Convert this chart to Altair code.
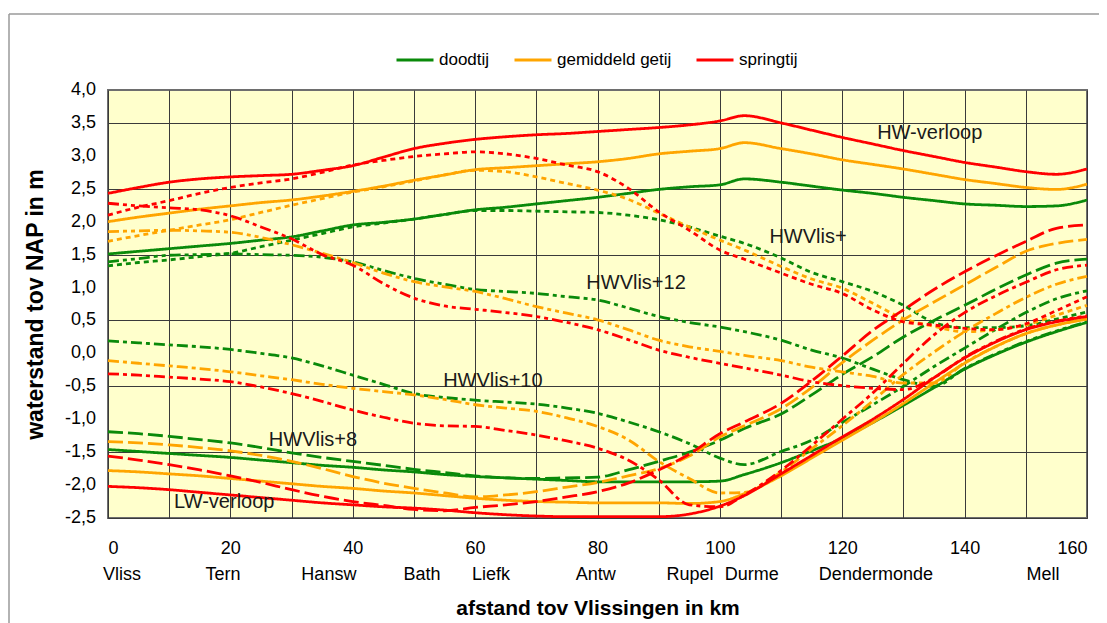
import altair as alt
import pandas as pd

# ---------------- data ----------------
km = [0, 5, 10, 15, 20, 25, 30, 35, 40, 45, 50, 55, 60, 65, 70, 75, 80, 85, 90, 95,
      100, 104, 110, 115, 120, 125, 130, 135, 140, 145, 150, 155, 160]

# springtij (red)
red_hw = [2.43, 2.52, 2.60, 2.65, 2.68, 2.70, 2.72, 2.78, 2.85, 2.98, 3.11, 3.19, 3.25, 3.29, 3.32, 3.34, 3.37, 3.40, 3.43, 3.47,
          3.53, 3.61, 3.50, 3.39, 3.28, 3.18, 3.08, 2.99, 2.90, 2.83, 2.76, 2.72, 2.80]
red_p2 = [2.10, 2.22, 2.32, 2.43, 2.52, 2.59, 2.65, 2.75, 2.86, 2.93, 2.99, 3.03, 3.06, 3.03, 2.96, 2.86, 2.76, 2.51, 2.15, 1.87,
          1.57, 1.43, 1.22, 1.05, 0.91, 0.66, 0.48, 0.43, 0.38, 0.36, 0.45, 0.65, 0.86]
red_p12 = [2.28, 2.24, 2.21, 2.18, 2.09, 1.92, 1.74, 1.50, 1.34, 1.06, 0.84, 0.72, 0.67, 0.62, 0.56, 0.47, 0.36, 0.21, 0.05, -0.06,
           -0.15, -0.22, -0.33, -0.43, -0.49, -0.53, -0.55, -0.37, -0.06, 0.18, 0.37, 0.49, 0.57]
red_p10 = [-0.31, -0.33, -0.36, -0.39, -0.43, -0.51, -0.61, -0.73, -0.86, -0.97, -1.06, -1.10, -1.11, -1.17, -1.24, -1.33, -1.44, -1.62, -1.92, -2.30,
           -2.33, -2.15, -1.78, -1.40, -1.00, -0.60, -0.15, 0.28, 0.62, 0.87, 1.08, 1.27, 1.34]
red_p8 = [-1.56, -1.62, -1.69, -1.77, -1.86, -1.96, -2.07, -2.17, -2.25, -2.31, -2.37, -2.39, -2.34, -2.30, -2.25, -2.18, -2.10, -1.97, -1.77, -1.53,
          -1.22, -1.04, -0.76, -0.42, -0.04, 0.35, 0.66, 0.97, 1.24, 1.48, 1.70, 1.90, 1.95]
red_lw = [-2.02, -2.04, -2.07, -2.11, -2.15, -2.19, -2.23, -2.27, -2.30, -2.33, -2.35, -2.38, -2.42, -2.45, -2.47, -2.48, -2.48, -2.48, -2.48, -2.44,
          -2.32, -2.16, -1.83, -1.55, -1.27, -1.00, -0.70, -0.37, -0.07, 0.17, 0.36, 0.48, 0.56]

# gemiddeld getij (orange)
orange_hw = [2.00, 2.07, 2.13, 2.19, 2.24, 2.29, 2.33, 2.39, 2.46, 2.54, 2.63, 2.71, 2.79, 2.82, 2.85, 2.88, 2.91, 2.96, 3.03, 3.07,
             3.11, 3.20, 3.11, 3.03, 2.94, 2.87, 2.80, 2.72, 2.64, 2.58, 2.52, 2.49, 2.57]
orange_p2 = [1.70, 1.79, 1.87, 1.95, 2.03, 2.14, 2.25, 2.35, 2.45, 2.53, 2.62, 2.71, 2.78, 2.76, 2.68, 2.58, 2.48, 2.34, 2.13, 1.92,
             1.72, 1.57, 1.32, 1.13, 0.99, 0.76, 0.53, 0.41, 0.33, 0.36, 0.43, 0.58, 0.73]
orange_p12 = [1.85, 1.86, 1.87, 1.86, 1.84, 1.76, 1.65, 1.52, 1.38, 1.22, 1.09, 1.01, 0.94, 0.83, 0.71, 0.61, 0.51, 0.36, 0.20, 0.10,
              0.03, -0.03, -0.11, -0.21, -0.28, -0.35, -0.45, -0.45, -0.14, 0.10, 0.30, 0.43, 0.53]
orange_p10 = [-0.11, -0.15, -0.19, -0.23, -0.28, -0.34, -0.40, -0.47, -0.53, -0.58, -0.63, -0.70, -0.78, -0.83, -0.88, -0.98, -1.11, -1.31, -1.64, -1.90,
              -2.12, -2.11, -1.80, -1.45, -1.10, -0.72, -0.32, 0.02, 0.33, 0.60, 0.85, 1.05, 1.17]
orange_p8 = [-1.34, -1.36, -1.39, -1.43, -1.48, -1.55, -1.64, -1.75, -1.87, -1.97, -2.05, -2.12, -2.18, -2.15, -2.10, -2.03, -1.96, -1.86, -1.75, -1.56,
             -1.27, -1.10, -0.84, -0.52, -0.14, 0.20, 0.51, 0.78, 1.04, 1.30, 1.55, 1.67, 1.73]
orange_lw = [-1.78, -1.80, -1.83, -1.86, -1.90, -1.94, -1.98, -2.02, -2.05, -2.09, -2.12, -2.16, -2.20, -2.23, -2.25, -2.26, -2.27, -2.27, -2.27, -2.28,
             -2.25, -2.13, -1.86, -1.59, -1.32, -1.05, -0.76, -0.45, -0.15, 0.10, 0.30, 0.43, 0.52]

# doodtij (green)
green_hw = [1.51, 1.55, 1.59, 1.63, 1.67, 1.72, 1.77, 1.86, 1.95, 1.99, 2.04, 2.11, 2.18, 2.22, 2.27, 2.32, 2.37, 2.43, 2.49, 2.53,
            2.56, 2.65, 2.60, 2.54, 2.48, 2.43, 2.37, 2.32, 2.27, 2.25, 2.23, 2.24, 2.33]
green_p2 = [1.33, 1.38, 1.42, 1.47, 1.52, 1.62, 1.72, 1.82, 1.92, 1.98, 2.04, 2.11, 2.17, 2.17, 2.16, 2.15, 2.14, 2.10, 2.03, 1.92,
            1.78, 1.67, 1.45, 1.23, 1.09, 0.94, 0.73, 0.47, 0.39, 0.39, 0.42, 0.52, 0.63]
green_p12 = [1.39, 1.44, 1.49, 1.50, 1.51, 1.50, 1.49, 1.46, 1.39, 1.26, 1.14, 1.05, 0.97, 0.94, 0.91, 0.86, 0.81, 0.69, 0.56, 0.47,
             0.40, 0.33, 0.20, 0.05, -0.07, -0.24, -0.40, -0.50, -0.23, -0.01, 0.18, 0.34, 0.48]
green_p10 = [0.19, 0.16, 0.13, 0.10, 0.06, 0.00, -0.07, -0.19, -0.33, -0.47, -0.61, -0.67, -0.71, -0.74, -0.77, -0.83, -0.91, -1.04, -1.19, -1.37,
             -1.59, -1.69, -1.49, -1.32, -1.05, -0.78, -0.50, -0.20, 0.08, 0.36, 0.62, 0.83, 0.95]
green_p8 = [-1.19, -1.22, -1.26, -1.31, -1.36, -1.43, -1.51, -1.58, -1.64, -1.70, -1.76, -1.81, -1.86, -1.89, -1.90, -1.89, -1.88, -1.77, -1.64, -1.50,
            -1.32, -1.14, -0.92, -0.63, -0.32, -0.05, 0.25, 0.50, 0.73, 0.97, 1.19, 1.37, 1.43]
green_lw = [-1.46, -1.49, -1.52, -1.55, -1.58, -1.62, -1.66, -1.70, -1.73, -1.77, -1.80, -1.84, -1.87, -1.89, -1.91, -1.93, -1.95, -1.95, -1.95, -1.95,
            -1.94, -1.84, -1.66, -1.48, -1.29, -1.05, -0.79, -0.52, -0.24, -0.02, 0.17, 0.33, 0.47]

tides = ["doodtij", "gemiddeld getij", "springtij"]
tide_colors = ["#0a8a0a", "#ffa500", "#ff0000"]
curves = ["HW-verloop", "HWVlis+", "HWVlis+12", "HWVlis+10", "HWVlis+8", "LW-verloop"]
curve_dashes = [[1, 0], [5, 4], [11, 4, 4, 4, 4, 4], [11, 4, 4, 4], [15, 5], [1, 0]]

# annotation labels
label_text = ["HW-verloop", "HWVlis+", "HWVlis+12", "HWVlis+10", "HWVlis+8", "LW-verloop"]
label_km = [134.3, 114.4, 86.3, 62.9, 33.5, 19.0]
label_val = [3.35, 1.77, 1.07, -0.42, -1.32, -2.26]

# station names under the x axis
station_names = ["Vliss", "Tern", "Hansw", "Bath", "Liefk", "Antw", "Rupel", "Durme", "Dendermonde", "Mell"]
station_km = [2.3, 18.8, 36.1, 51.3, 62.6, 79.7, 95.1, 105.2, 125.5, 152.8]

x_ticks = list(range(0, 161, 10))
y_ticks = [-2.5, -2.0, -1.5, -1.0, -0.5, 0.0, 0.5, 1.0, 1.5, 2.0, 2.5, 3.0, 3.5, 4.0]
y_tick_labels = ["-2,5", "-2,0", "-1,5", "-1,0", "-0,5", "0,0", "0,5", "1,0", "1,5", "2,0", "2,5", "3,0", "3,5", "4,0"]

# ---------------- build table ----------------
table = {
    "doodtij": [green_hw, green_p2, green_p12, green_p10, green_p8, green_lw],
    "gemiddeld getij": [orange_hw, orange_p2, orange_p12, orange_p10, orange_p8, orange_lw],
    "springtij": [red_hw, red_p2, red_p12, red_p10, red_p8, red_lw],
}
rows = []
for tide in tides:
    for cname, vals in zip(curves, table[tide]):
        for k, v in zip(km, vals):
            rows.append({"km": k, "waterstand": v, "tij": tide, "curve": cname,
                         "key": tide + "|" + cname})
df = pd.DataFrame(rows)

FONT = "Liberation Sans, Arial, sans-serif"

x_enc = alt.X("km:Q",
              scale=alt.Scale(domain=[0, 160], nice=False, zero=False),
              axis=alt.Axis(values=x_ticks,
                            labelExpr="datum.value % 20 == 0 ? datum.label : ''",
                            labelOverlap=False,
                            title="afstand tov Vlissingen in km",
                            titleFontSize=21, titleFontWeight="bold", titleY=79,
                            labelFontSize=18, labelPadding=21, tickSize=0, domain=False,
                            grid=True, gridColor="#3a3a3a", gridWidth=1,
                            labelColor="#000", titleColor="#000",
                            labelFont=FONT, titleFont=FONT))
y_enc = alt.Y("waterstand:Q",
              scale=alt.Scale(domain=[-2.5, 4.0], nice=False, zero=False),
              axis=alt.Axis(values=y_ticks, labels=False,
                            title="waterstand tov NAP in m",
                            titleFontSize=23, titleFontWeight="bold",
                            titleX=-73, titleY=214, titleBaseline="middle", titleAlign="center",
                            tickSize=0, domain=False,
                            grid=True, gridColor="#3a3a3a", gridWidth=1,
                            titleColor="#000", titleFont=FONT))

color_enc = alt.Color("tij:N",
                      scale=alt.Scale(domain=tides, range=tide_colors),
                      legend=alt.Legend(title=None, orient="none", direction="horizontal",
                                        legendX=287, legendY=-50,
                                        symbolType="stroke", symbolSize=1369, symbolStrokeWidth=3,
                                        labelFontSize=17, labelFont=FONT, labelColor="#000",
                                        labelOffset=4, columnPadding=18, padding=0))
dash_enc = alt.StrokeDash("curve:N", scale=alt.Scale(domain=curves, range=curve_dashes), legend=None)

layers = []
for tide in tides:
    layers.append(
        alt.Chart(df[df["tij"] == tide])
        .mark_line(strokeWidth=2.8, interpolate="monotone")
        .encode(x=x_enc, y=y_enc, color=color_enc, strokeDash=dash_enc, detail="key:N")
    )

ylab_df = pd.DataFrame({"waterstand": y_ticks, "txt": y_tick_labels})
ylabels = alt.Chart(ylab_df).mark_text(fontSize=18, font=FONT, color="#000",
                                       align="right", baseline="middle").encode(
    x=alt.value(-12), y="waterstand:Q", text="txt:N")

labels_df = pd.DataFrame({"label": label_text, "km": label_km, "waterstand": label_val})
labels = alt.Chart(labels_df).mark_text(fontSize=20, font=FONT, color="#1a1a1a").encode(
    x="km:Q", y="waterstand:Q", text="label:N")

stations_df = pd.DataFrame({"name": station_names, "km": station_km})
stations = alt.Chart(stations_df).mark_text(fontSize=18, font=FONT, color="#000",
                                            baseline="middle").encode(
    x="km:Q", y=alt.value(485), text="name:N")

border_df = pd.DataFrame({"a": [0]})
top_border = alt.Chart(border_df).mark_rule(color="#9a9a9a", strokeWidth=1.5).encode(
    x=alt.value(-99), x2=alt.value(1000), y=alt.value(-76))
left_border = alt.Chart(border_df).mark_rule(color="#9a9a9a", strokeWidth=1.5).encode(
    x=alt.value(-99), y=alt.value(-76), y2=alt.value(560))

chart = alt.layer(*layers, ylabels, labels, stations, top_border, left_border).properties(
    width=979, height=428,
    autosize=alt.AutoSizeParams(type="none"),
    padding={"left": 100, "top": 82, "right": 12, "bottom": 125},
    background="white",
).configure_view(
    fill="#ffffcc", stroke="#6e6e6e", strokeWidth=2
)

chart.save("out.html", embed_options={"renderer": "svg", "actions": False})
